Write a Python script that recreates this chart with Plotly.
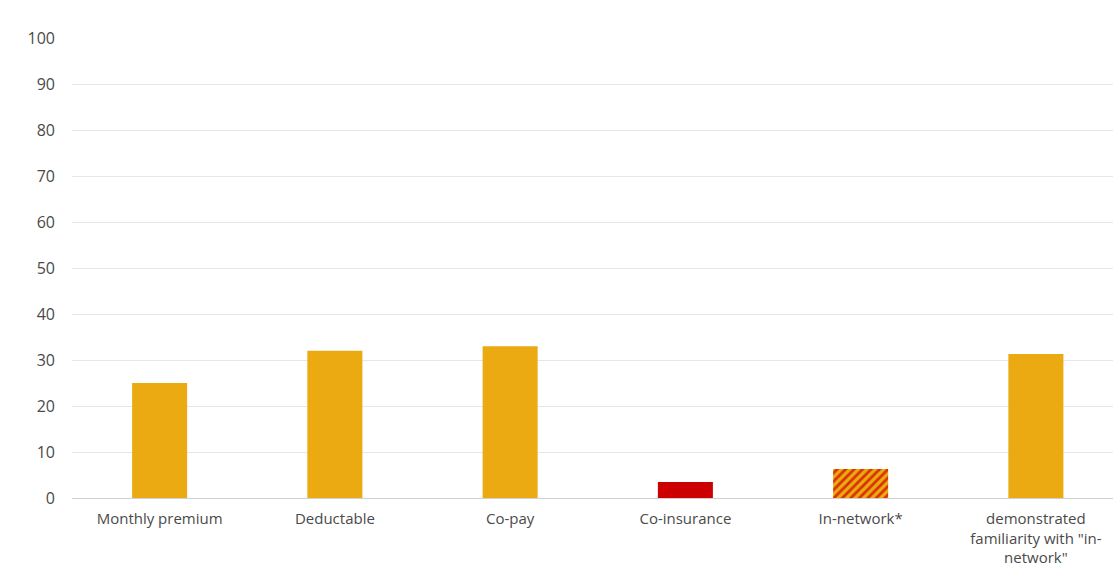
import plotly.graph_objects as go

categories = ["Monthly premium", "Deductable", "Co-pay", "Co-insurance", "In-network*",
              "demonstrated familiarity with \"in-network\""]
tick_labels = ["Monthly premium", "Deductable", "Co-pay", "Co-insurance", "In-network*",
               "demonstrated<br>familiarity with \"in-<br>network\""]
values = [25, 32, 33, 3.5, 6.3, 31.3]
bar_style = ["orange", "orange", "orange", "red", "hatched", "orange"]

ORANGE = "#EBAA12"
RED = "#CC0000"
STRIPE = "#D83000"

fig = go.Figure()
for style in ["orange", "red", "hatched"]:
    xs = [c for c, s in zip(categories, bar_style) if s == style]
    ys = [v for v, s in zip(values, bar_style) if s == style]
    if style == "hatched":
        marker = dict(color=ORANGE, line=dict(width=0),
                      pattern=dict(shape="/", fgcolor=STRIPE, bgcolor=ORANGE,
                                   fgopacity=1, size=6, solidity=0.45, fillmode="overlay"))
    else:
        marker = dict(color=ORANGE if style == "orange" else RED, line=dict(width=0))
    fig.add_trace(go.Bar(x=xs, y=ys, width=0.314, marker=marker))

fig.update_layout(
    width=1113, height=569,
    margin=dict(l=72, r=0, t=38, b=71),
    plot_bgcolor="white", paper_bgcolor="white",
    font=dict(family="Open Sans, Lato, sans-serif", size=16, color="#4a4a4a"),
    showlegend=False, barmode="overlay",
)
fig.update_xaxes(
    type="category", categoryorder="array", categoryarray=categories,
    range=[-0.5, 5.44], automargin=False,
    tickvals=categories, ticktext=tick_labels,
    showgrid=False, showline=True, linecolor="#d0d0d0", linewidth=1,
    ticks="", ticklabelstandoff=7, tickfont=dict(size=15, color="#4a4a4a"),
)
fig.update_yaxes(
    range=[0, 100], dtick=10, showgrid=True, gridcolor="#e6e6e6", gridwidth=1,
    zeroline=False, ticks="", ticklabelstandoff=16, automargin=False,
    tickfont=dict(size=16, color="#4a4a4a"),
)

fig.write_html("out.html")
